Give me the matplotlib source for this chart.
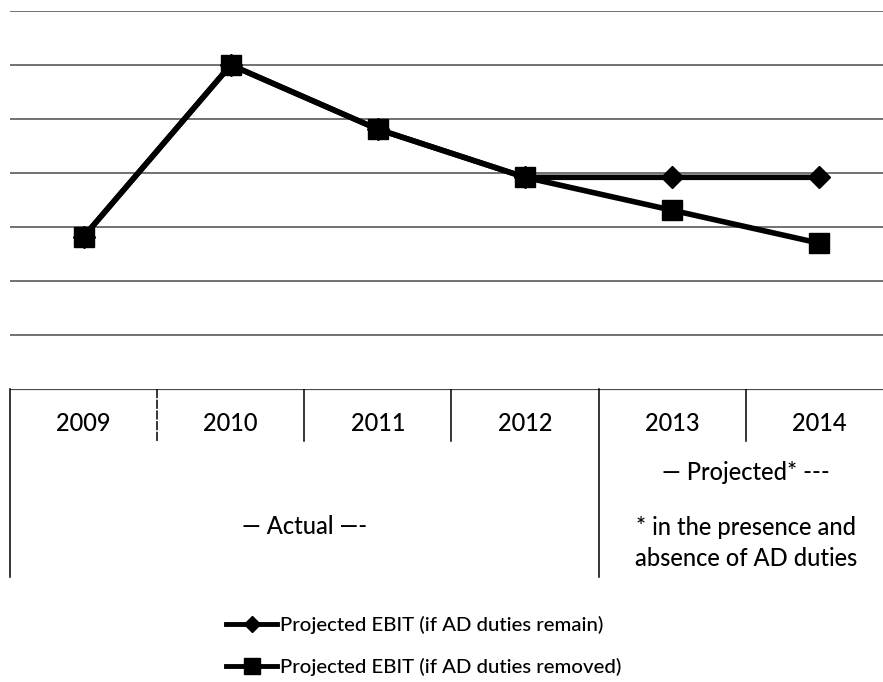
import matplotlib
matplotlib.use("Agg")
from matplotlib import pyplot as plt
from matplotlib.lines import Line2D
import numpy as np

years = ["2009", "2010", "2011", "2012", "2013", "2014"]
ebit_remain = [2.82, 6.0, 4.81, 3.92, 3.92, 3.92]
ebit_removed = [2.82, 6.0, 4.81, 3.92, 3.31, 2.70]
label_remain = "Projected EBIT (if AD duties remain)"
label_removed = "Projected EBIT (if AD duties removed)"

plt.rcParams['font.family'] = ['Lato', 'DejaVu Sans']

W, H = 883, 682
fig = plt.figure(figsize=(W / 100, H / 100), dpi=100)

def px_rect(left, top, right, bottom):
    return [left / W, 1 - bottom / H, (right - left) / W, (bottom - top) / H]

ix = np.arange(len(years))

# chart area
ax = fig.add_axes(px_rect(10, 11, 893, 389))
ax.set_xlim(-0.5, len(years) - 0.5)
ax.set_ylim(0, 7)
for g in range(1, 8):
    ax.axhline(g, color="#4a4a4a", lw=1.1, zorder=1)
ax.plot(ix, ebit_remain, color="black", lw=4, marker="D", markersize=11,
        zorder=3, solid_joinstyle="round")
ax.plot(ix, ebit_removed, color="black", lw=4, marker="s", markersize=14.5,
        zorder=4, solid_joinstyle="round")
ax.set_xticks([])
ax.set_yticks([])
for s in ax.spines.values():
    s.set_visible(False)

# category table below the chart
tb = fig.add_axes(px_rect(10, 389, 893, 577))
tb.set_xlim(-0.5, len(years) - 0.5)
tb.set_ylim(188, 0)
tb.axis("off")
tb.axhline(0, color="#4a4a4a", lw=1.6)
for xb in [-0.5, 3.5]:
    tb.plot([xb, xb], [0, 188], color="black", lw=1.1, clip_on=False)
for xb in [0.5, 1.5, 2.5, 4.5]:
    tb.plot([xb, xb], [0, 52], color="black", lw=1.1,
            ls=(0, (6, 1)) if xb == 0.5 else "-")
for i, y in enumerate(years):
    tb.text(i, 34, y, ha="center", va="center", fontsize=17, fontweight="medium")
tb.text(1.5, 138, "\u2014 Actual \u2014-", ha="center", va="center",
        fontsize=17, fontweight="medium")
tb.text(4.5, 84, "\u2014 Projected* ---", ha="center", va="center",
        fontsize=17, fontweight="medium")
tb.text(4.5, 154, "* in the presence and\nabsence of AD duties", ha="center",
        va="center", fontsize=17, linespacing=1.45, fontweight="medium")

# legend
handles = [
    Line2D([], [], color="black", lw=3.5, marker="D", markersize=8),
    Line2D([], [], color="black", lw=3.5, marker="s", markersize=12),
]
fig.legend(handles, [label_remain, label_removed], loc="center left",
           bbox_to_anchor=(216 / W, 1 - 646 / H), frameon=False,
           prop={"size": 14.7, "weight": "medium"}, handlelength=2.5,
           handletextpad=0.15, labelspacing=1.2, borderpad=0)

fig.savefig("out.png", dpi=100)
